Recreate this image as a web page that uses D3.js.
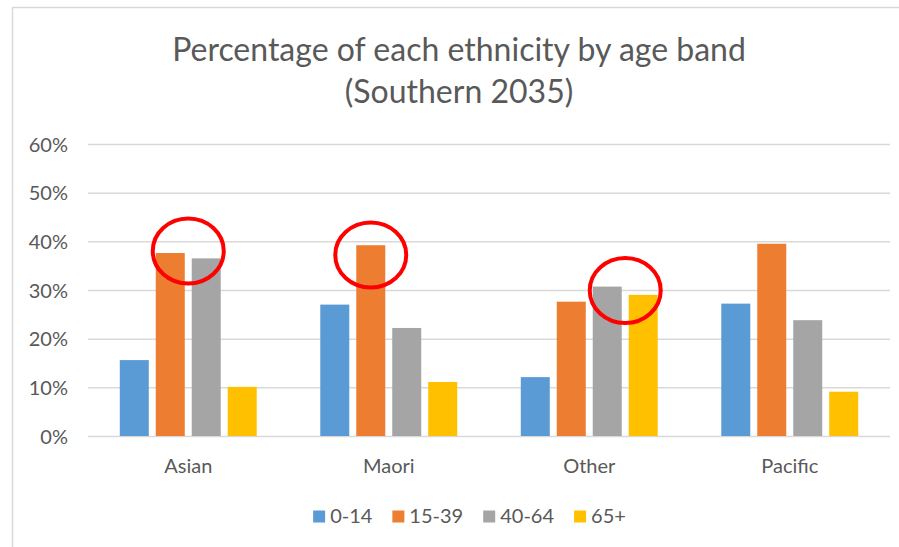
<!DOCTYPE html>
<html>
<head>
<meta charset="utf-8">
<script src="https://cdn.jsdelivr.net/npm/d3@7"></script>
<style>
	html, body { margin: 0; padding: 0; background: #fff; overflow: hidden; }
	svg { display: block; font-family: Lato, "Open Sans", sans-serif; }
</style>
</head>
<body>
<script>
const width = 899,
	height = 547

// data
const categories = ["Asian", "Maori", "Other", "Pacific"]
const seriesNames = ["0-14", "15-39", "40-64", "65+"]
const age0to14 = [0.156, 0.270, 0.121, 0.272]
const age15to39 = [0.376, 0.392, 0.276, 0.395]
const age40to64 = [0.365, 0.222, 0.307, 0.238]
const age65plus = [0.101, 0.111, 0.290, 0.091]
const yTicks = [0, 0.1, 0.2, 0.3, 0.4, 0.5, 0.6]
const titleLines = ["Percentage of each ethnicity by age band", "(Southern 2035)"]

// red rings drawn over the chart: which bars they surround, and at what level
const highlightCategory = ["Asian", "Maori", "Other"]
const highlightFrom = ["15-39", "15-39", "40-64"]
const highlightTo = ["40-64", "15-39", "65+"]
const highlightLevel = [0.380, 0.372, 0.299]

const seriesValues = [age0to14, age15to39, age40to64, age65plus]
const rows = categories.map((c, i) => ({
	category: c,
	values: seriesNames.map((s, j) => ({ key: s, value: seriesValues[j][i] }))
}))

const colors = {
	blue: "#5b9bd5",
	orange: "#ed7d31",
	gray: "#a5a5a5",
	gold: "#ffc000",
	text: "#595959",
	grid: "#d9d9d9",
	ring: "#ff0000"
}

const color = d3.scaleOrdinal()
	.domain(seriesNames)
	.range([colors.blue, colors.orange, colors.gray, colors.gold])

const plot = { left: 88, right: 890, top: 144, bottom: 436 }

const x0 = d3.scaleBand()
	.domain(categories)
	.range([plot.left, plot.right])
	.paddingInner(0.317)
	.paddingOuter(0.1585)

const x1 = d3.scaleBand()
	.domain(seriesNames)
	.range([0, x0.bandwidth()])
	.paddingInner(0.194)

const y = d3.scaleLinear()
	.domain([0, 0.6])
	.range([plot.bottom, plot.top])

const svg = d3.select("body")
	.append("svg")
	.attr("width", width)
	.attr("height", height)

// chart area outline (runs off the right and bottom edges)
svg.append("rect")
	.attr("x", 12.5)
	.attr("y", 7.5)
	.attr("width", 1000)
	.attr("height", 1000)
	.attr("fill", "#fff")
	.attr("stroke", colors.grid)
	.attr("stroke-width", 1.5)

// title
const title = svg.append("text")
	.attr("text-anchor", "middle")
	.attr("fill", colors.text)
	.style("font-size", "32px")

title.selectAll("tspan")
	.data(titleLines)
	.join("tspan")
	.attr("x", 459)
	.attr("y", (d, i) => 61 + i * 42)
	.text(d => d)

// gridlines + y labels
const yAxis = d3.axisLeft(y)
	.tickValues(yTicks)
	.tickFormat(d3.format(".0%"))
	.tickSize(-(plot.right - plot.left))
	.tickPadding(20)

svg.append("g")
	.attr("transform", `translate(${plot.left},0)`)
	.call(yAxis)
	.call(g => g.select(".domain").remove())
	.call(g => g.selectAll(".tick line").attr("stroke", colors.grid).attr("stroke-width", 1.5))
	.call(g => g.selectAll(".tick text")
		.attr("fill", colors.text)
		.attr("dy", "0.36em")
		.style("font-size", "20px")
		.style("font-family", "Lato, 'Open Sans', sans-serif"))

// bars
const group = svg.append("g")
	.selectAll("g")
	.data(rows)
	.join("g")
	.attr("transform", d => `translate(${x0(d.category)},0)`)

group.selectAll("rect")
	.data(d => d.values)
	.join("rect")
	.attr("x", d => x1(d.key))
	.attr("y", d => y(d.value))
	.attr("width", x1.bandwidth())
	.attr("height", d => y(0) - y(d.value))
	.attr("fill", d => color(d.key))

// category labels
const xAxis = d3.axisBottom(x0)
	.tickSize(0)
	.tickPadding(37)

svg.append("g")
	.attr("transform", `translate(0,${plot.bottom})`)
	.call(xAxis)
	.call(g => g.select(".domain").remove())
	.call(g => g.selectAll(".tick text")
		.attr("fill", colors.text)
		.attr("dy", 0)
		.style("font-size", "20px")
		.style("font-family", "Lato, 'Open Sans', sans-serif"))

// red rings
const ringData = highlightCategory.map((c, i) => ({
	category: c,
	from: highlightFrom[i],
	to: highlightTo[i],
	level: highlightLevel[i]
}))

svg.append("g")
	.selectAll("ellipse")
	.data(ringData)
	.join("ellipse")
	.attr("cx", d => x0(d.category) + (x1(d.from) + x1(d.to) + x1.bandwidth()) / 2)
	.attr("cy", d => y(d.level))
	.attr("rx", 35.5)
	.attr("ry", 32.5)
	.attr("fill", "none")
	.attr("stroke", colors.ring)
	.attr("stroke-width", 4)

// legend
const legend = svg.append("g")
	.style("font-size", "20px")
	.attr("fill", colors.text)

const legendItem = legend.selectAll("g")
	.data(seriesNames)
	.join("g")

legendItem.append("rect")
	.attr("width", 12)
	.attr("height", 12)
	.attr("y", 510.5)
	.attr("fill", d => color(d))

legendItem.append("text")
	.attr("x", 17)
	.attr("y", 522.5)
	.text(d => d)

// lay legend items out from their measured widths, centred under the plot
let offset = 0
const itemX = []
legendItem.each(function() {
	const w = 17 + this.querySelector("text").getComputedTextLength()
	itemX.push(offset)
	offset += w + 20
})
const legendWidth = offset - 20
const legendStart = 469.5 - legendWidth / 2
legendItem.attr("transform", (d, i) => `translate(${legendStart + itemX[i]},0)`)
</script>
</body>
</html>
